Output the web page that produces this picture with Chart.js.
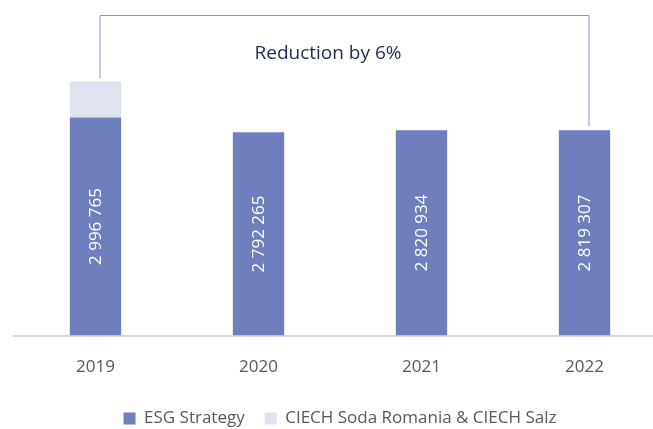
<!DOCTYPE html>
<html>
<head>
<meta charset="utf-8">
<script src="https://cdn.jsdelivr.net/npm/chart.js@4.4.0/dist/chart.umd.min.js"></script>
<style>
  html, body { margin: 0; padding: 0; background: #fff; overflow: hidden; }
  #wrap { width: 666px; height: 429px; }
</style>
</head>
<body>
<div id="wrap"><canvas id="emisjaChart"></canvas></div>
<script>
const labels = ["2019", "2020", "2021", "2022"];
const esgStrategy = [2996765, 2792265, 2820934, 2819307];
const ciechSodaSalz = [495000, 0, 0, 0];
const reductionText = "Reduction by 6%";

// wartosci w slupkach: spacja jako separator tysiecy
function formatNum(v) {
    return String(v).replace(/\B(?=(\d{3})+(?!\d))/g, " ");
}

// podpisy pionowe w niebieskich slupkach
const barLabels = {
    id: "barLabels",
    afterDatasetsDraw(chart) {
        const ctx = chart.ctx;
        const meta = chart.getDatasetMeta(0);
        ctx.save();
        ctx.fillStyle = "#ffffff";
        ctx.font = "17px 'Open Sans', 'Noto Sans', sans-serif";
        ctx.textAlign = "center";
        ctx.textBaseline = "middle";
        meta.data.forEach((bar, i) => {
            const cy = (bar.y + bar.base) / 2;
            ctx.save();
            ctx.translate(bar.x, cy);
            ctx.rotate(-Math.PI / 2);
            ctx.fillText(formatNum(esgStrategy[i]), 0, 1);
            ctx.restore();
        });
        ctx.restore();
    }
};

// klamra od 2019 do 2022 z opisem
const bracket = {
    id: "bracket",
    afterDraw(chart) {
        const ctx = chart.ctx;
        const x = chart.scales.x;
        const y = chart.scales.y;
        const first = esgStrategy[0] + ciechSodaSalz[0];
        const last = esgStrategy[esgStrategy.length - 1];
        const x1 = x.getPixelForValue(0) + 4;
        const x2 = x.getPixelForValue(labels.length - 1) + 4;
        const top = 15;
        ctx.save();
        ctx.strokeStyle = "#8796d2";
        ctx.lineWidth = 1;
        ctx.beginPath();
        ctx.moveTo(x1 + 0.5, y.getPixelForValue(first) - 3);
        ctx.lineTo(x1 + 0.5, top + 0.5);
        ctx.lineTo(x2 + 0.5, top + 0.5);
        ctx.lineTo(x2 + 0.5, y.getPixelForValue(last) - 4);
        ctx.stroke();
        ctx.fillStyle = "#1f2a55";
        ctx.font = "19px 'Open Sans', 'Noto Sans', sans-serif";
        ctx.textAlign = "center";
        ctx.textBaseline = "middle";
        ctx.fillText(reductionText, 328, 54);
        ctx.restore();
    }
};

const ctx = document.getElementById("emisjaChart").getContext("2d");
const emisjaChart = new Chart(ctx, {
    type: "bar",
    data: {
        labels: labels,
        datasets: [
            {
                label: "ESG Strategy",
                data: esgStrategy,
                backgroundColor: "#6f7ebd"
            },
            {
                label: "CIECH Soda Romania & CIECH Salz",
                data: ciechSodaSalz,
                backgroundColor: "#dfe3f0"
            }
        ]
    },
    options: {
        responsive: true,
        maintainAspectRatio: false,
        animation: false,
        layout: { padding: { left: 14, right: 0, top: 8, bottom: -8 } },
        datasets: { bar: { categoryPercentage: 1, barPercentage: 0.315 } },
        scales: {
            x: {
                stacked: true,
                grid: { display: false },
                border: { display: true, color: "#d9d9d9", width: 2 },
                ticks: {
                    color: "#595959",
                    font: { family: "'Open Sans', 'Noto Sans', sans-serif", size: 17 },
                    padding: 13
                }
            },
            y: {
                stacked: true,
                display: false,
                min: 0,
                max: 4500000
            }
        },
        plugins: {
            legend: {
                position: "bottom",
                labels: {
                    color: "#595959",
                    boxWidth: 12,
                    boxHeight: 12,
                    padding: 20,
                    font: { family: "'Open Sans', 'Noto Sans', sans-serif", size: 17 }
                }
            },
            tooltip: { enabled: false }
        }
    },
    plugins: [barLabels, bracket]
});
</script>
</body>
</html>
